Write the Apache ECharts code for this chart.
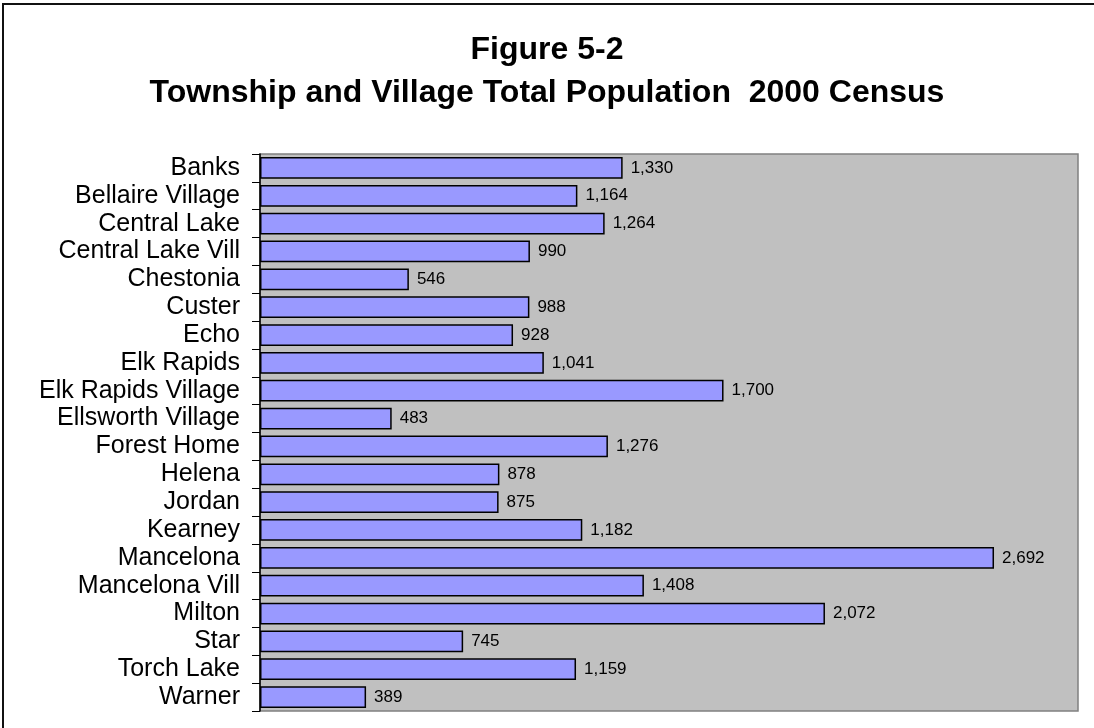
<!DOCTYPE html>
<html>
<head>
<meta charset="utf-8">
<script src="https://cdn.jsdelivr.net/npm/echarts@6/dist/echarts.min.js"></script>
<style>
html,body{margin:0;padding:0;background:#fff;}
#chart{width:1094px;height:728px;}
</style>
</head>
<body>
<div id="chart"></div>
<script>
const titleLines = ['Figure 5-2', 'Township and Village Total Population  2000 Census'];
const categories = ['Banks','Bellaire Village','Central Lake','Central Lake Vill','Chestonia','Custer','Echo','Elk Rapids','Elk Rapids Village','Ellsworth Village','Forest Home','Helena','Jordan','Kearney','Mancelona','Mancelona Vill','Milton','Star','Torch Lake','Warner'];
const population = [1330,1164,1264,990,546,988,928,1041,1700,483,1276,878,875,1182,2692,1408,2072,745,1159,389];
const axisMin = 0;
const axisMax = 3000;

const FONT = "'Liberation Sans', Arial, sans-serif";
const chart = echarts.init(document.getElementById('chart'), null, {renderer:'canvas'});
chart.setOption({
  backgroundColor: '#ffffff',
  animation: false,
  title: {
    text: titleLines.join('\n'),
    left: 'center',
    top: 24,
    textStyle: {fontFamily: FONT, fontSize: 32, fontWeight: 'bold', color: '#000', lineHeight: 43, align: 'center'}
  },
  graphic: [{
    type: 'rect',
    shape: {x: 3, y: 4, width: 1300, height: 1300},
    style: {fill: 'none', stroke: '#111', lineWidth: 2},
    silent: true,
    z: 100
  }],
  grid: {
    left: 260, right: 16, top: 154, bottom: 17,
    show: true,
    backgroundColor: '#C0C0C0',
    borderColor: '#808080',
    borderWidth: 1.5,
    containLabel: false
  },
  xAxis: {
    type: 'value',
    min: axisMin,
    max: axisMax,
    axisLine: {show: false},
    axisTick: {show: false},
    axisLabel: {show: false},
    splitLine: {show: false}
  },
  yAxis: {
    type: 'category',
    data: categories,
    inverse: true,
    axisLine: {show: true, lineStyle: {color: '#000', width: 1.5}},
    axisTick: {show: true, length: 8, interval: 0, lineStyle: {color: '#000', width: 1}},
    axisLabel: {fontFamily: FONT, fontSize: 25, color: '#000', margin: 20, interval: 0},
    splitLine: {show: false}
  },
  series: [{
    type: 'bar',
    data: population,
    barCategoryGap: '22%',
    itemStyle: {color: '#9999FF', borderColor: '#000', borderWidth: 1.5},
    label: {
      show: true,
      position: 'right',
      distance: 8,
      fontFamily: FONT,
      fontSize: 17,
      color: '#000',
      formatter: p => p.value.toLocaleString('en-US')
    }
  }]
});
</script>
</body>
</html>
